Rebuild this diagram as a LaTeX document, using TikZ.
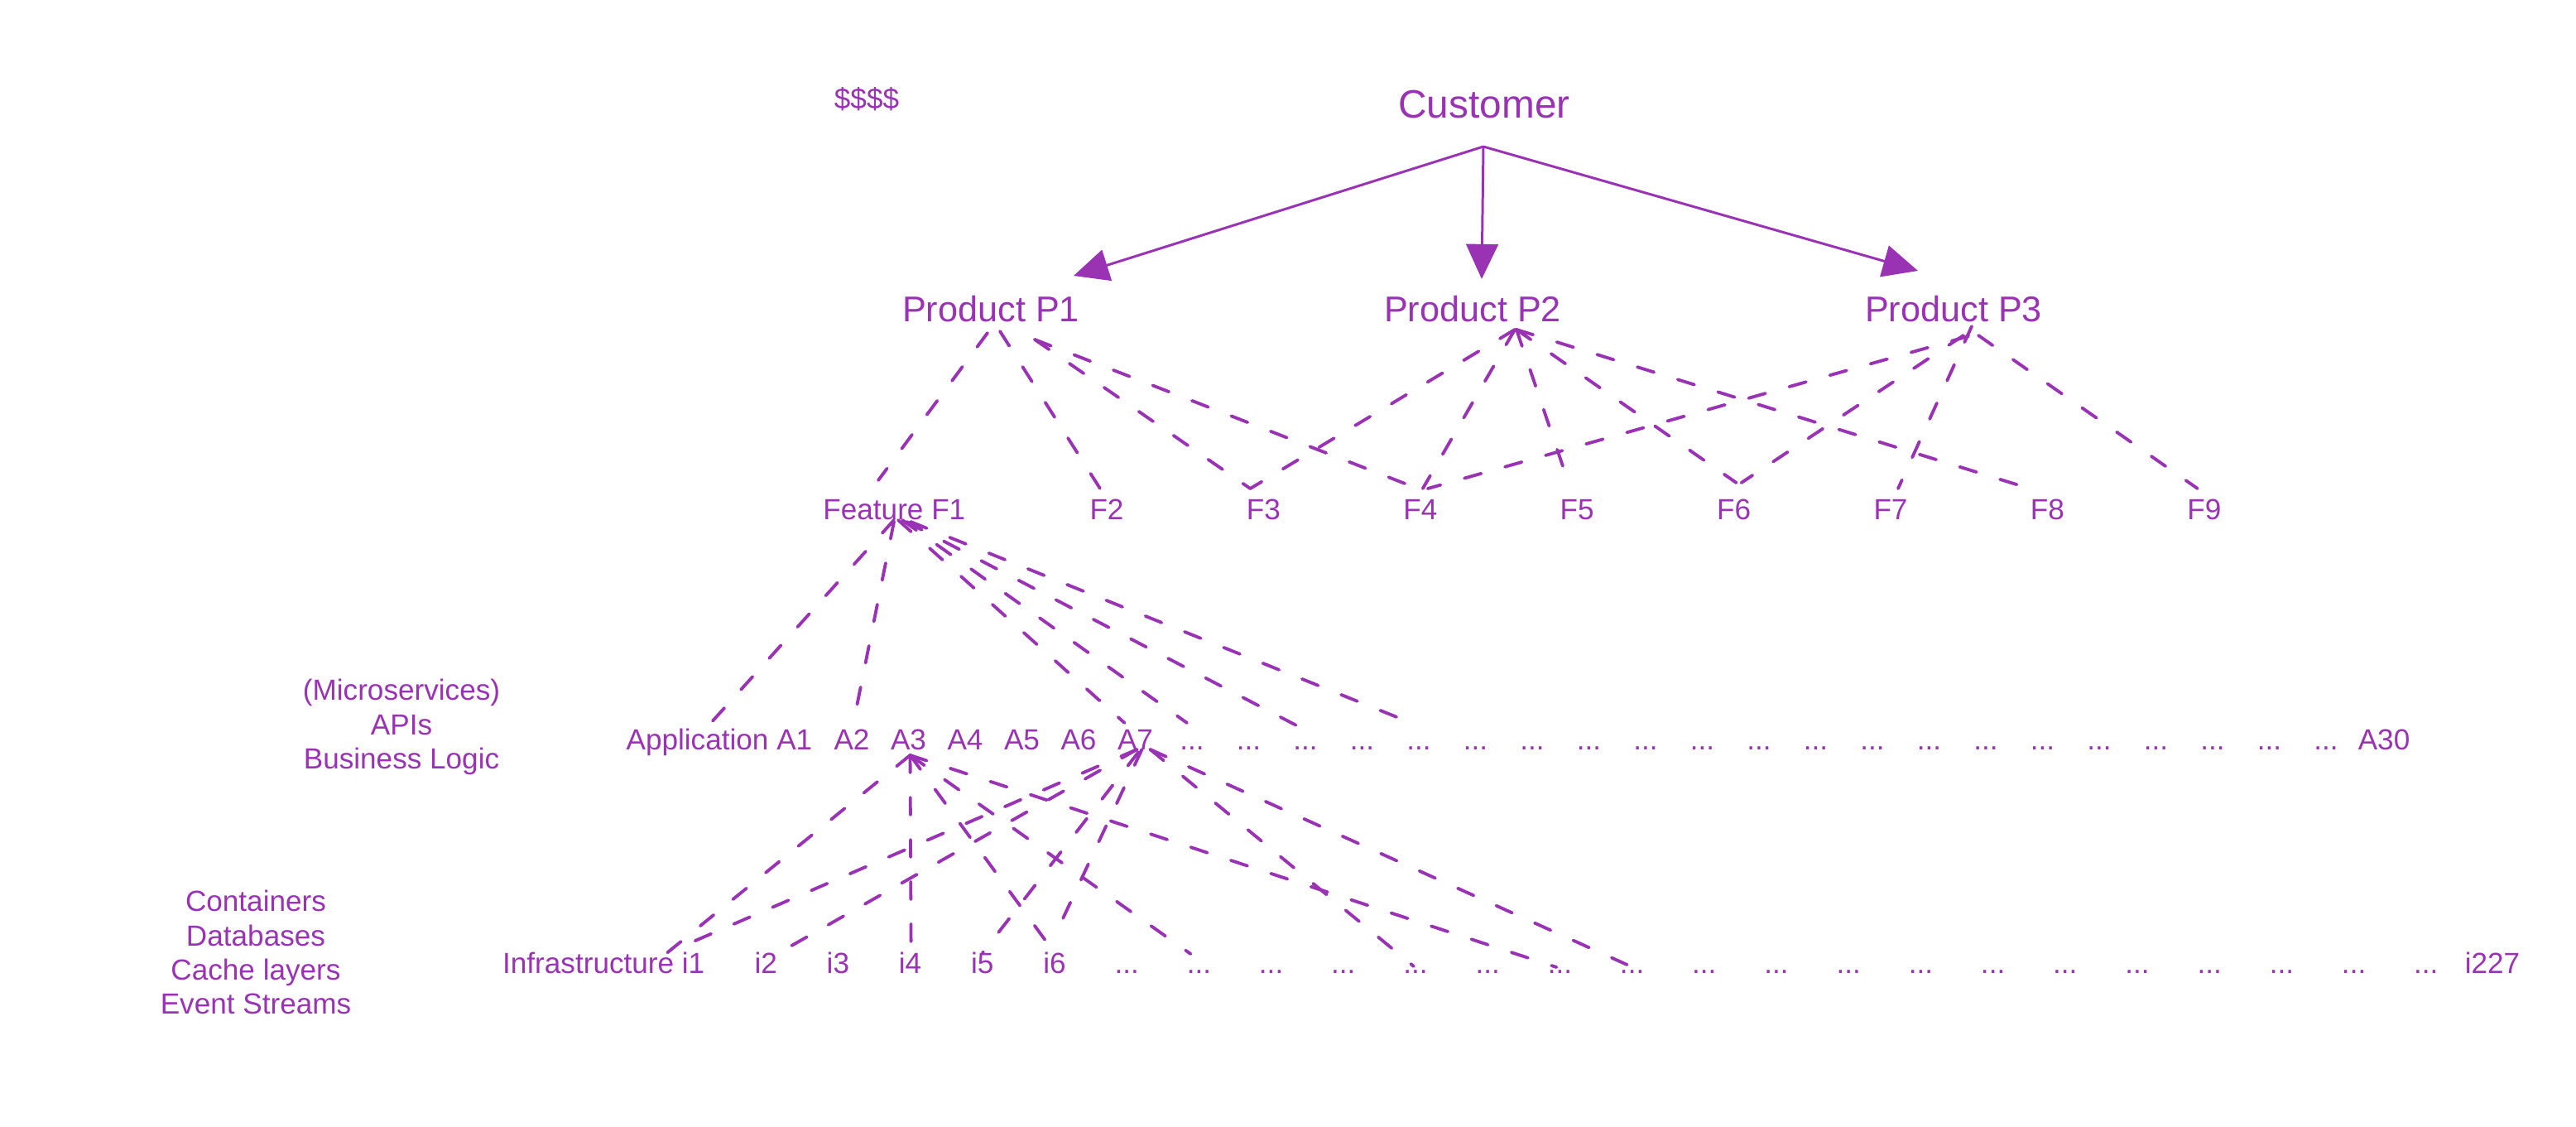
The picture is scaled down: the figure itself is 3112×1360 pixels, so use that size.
\documentclass[tikz,border=0pt]{standalone}
\usepackage{fontspec}
\setmainfont{Liberation Sans}
\usepackage{tikz}
\usetikzlibrary{arrows.meta,calc}
\definecolor{grape}{RGB}{153,51,180}

\begin{document}
\begin{tikzpicture}[x=0.1mm, y=-0.1mm, font=\fontsize{10}{11.7}\selectfont,
      every node/.style={text=grape, inner sep=0pt, anchor=base},
      arrow/.style={-{Triangle[length=12pt, width=11pt]}, draw=grape, line width=0.85pt},
      dline/.style={draw=grape, line width=1.1pt, line cap=round, dash pattern=on 6pt off 8.5pt}]
    \useasboundingbox (0,0) rectangle (3112,1360);
    % customer and products
    \node (cash) at (1047,131) {\$\$\$\$};
    \node[font=\fontsize{13.6}{16}\selectfont] (cust) at (1793,142) {Customer};
    \coordinate (hub) at ($(cust.base)+(-1,35)$);
    \foreach \k/\x in {1/1197, 2/1779, 3/2360}
      \node[font=\fontsize{12.3}{14}\selectfont] (p\k) at (\x,388) {Product P\k};
    \draw[arrow] (hub) -- ($(p1.base)+(100,-55)$);
    \draw[arrow] (hub) -- ($(p2.base)+(11,-51)$);
    \draw[arrow] (hub) -- ($(p3.base)+(-43,-61)$);
    % features
    \node[anchor=base east] (f1) at (1167,627) {Feature F1};
    \foreach \k in {2,...,9}
      \node (f\k) at ({1337+189.4*(\k-2)},627) {F\k};
    % applications
    \node[align=center, anchor=center] (applbl) at (485,878)
      {(Microservices)\\APIs\\Business Logic};
    \node[anchor=base east] (a1) at (982,905) {Application A1};
    \foreach \k in {2,...,7}
      \node (a\k) at ({1029+68.5*(\k-2)},905) {A\k};
    \foreach \k in {8,...,28}
      \node (a\k) at ({1029+68.5*(\k-2)},905) {...};
    \node (a29) at (2880,905) {A30};
    % infrastructure
    \node[align=center, anchor=center] (infralbl) at (309,1150)
      {Containers\\Databases\\Cache layers\\Event Streams};
    \node[anchor=base east] (i1) at (852,1175) {Infrastructure i1};
    \foreach \k in {2,...,6}
      \node (i\k) at ({838+87.2*(\k-1)},1175) {i\k};
    \foreach \k in {7,...,25}
      \node (i\k) at ({838+87.2*(\k-1)},1175) {...};
    \node (i26) at (3011,1175) {i227};
    % products -> features
    \draw[dline] ($(p1.base)+(-4,14)$) -- ($(f1.base east)+(-106,-47)$);
    \draw[dline] ($(p1.base)+(11,12)$) -- ($(f2.base)+(-8,-37)$);
    \draw[dline] ($(p1.base)+(53,22)$) -- ($(f3.base)+(-16,-37)$);
    \draw[dline] ($(p1.base)+(53,22)$) -- ($(f4.base)+(-3,-37)$);
    \draw[dline] ($(p2.base)+(51,10)$) -- ($(f3.base)+(-16,-37)$);
    \draw[dline] ($(p2.base)+(51,10)$) -- ($(f4.base)+(3,-37)$);
    \draw[dline] ($(p2.base)+(53,10)$) -- ($(f5.base)+(-8,-37)$);
    \draw[dline] ($(p2.base)+(53,10)$) -- ($(f6.base)+(3,-44)$);
    \draw[dline] ($(p2.base)+(53,10)$) -- ($(f8.base)+(-31,-40)$);
    \draw[dline] ($(p3.base)+(18,18)$) -- ($(f4.base)+(9,-37)$);
    \draw[dline] ($(p3.base)+(12,17)$) -- ($(f6.base)+(9,-44)$);
    \draw[dline] ($(p3.base)+(22,6)$) -- ($(f7.base)+(9,-37)$);
    \draw[dline] ($(p3.base)+(30,17)$) -- ($(f9.base)+(-8,-37)$);
    % feature -> applications
    \draw[dline] ($(f1.base east)+(-87,1)$) -- ($(a1.base east)+(-125,-30)$);
    \draw[dline] ($(f1.base east)+(-87,3)$) -- ($(a2.base)+(4,-42)$);
    \draw[dline] ($(f1.base east)+(-82,1)$) -- ($(a7.base)+(-13,-32)$);
    \draw[dline] ($(f1.base east)+(-77,1)$) -- ($(a8.base)+(-6,-32)$);
    \draw[dline] ($(f1.base east)+(-72,3)$) -- ($(a10.base)+(-9,-28)$);
    \draw[dline] ($(f1.base east)+(-67,3)$) -- ($(a12.base)+(-4,-30)$);
    % applications -> infrastructure
    \draw[dline] ($(a3.base)+(2,7)$) -- ($(i1.base east)+(-49,-22)$);
    \draw[dline] ($(a3.base)+(2,7)$) -- ($(i4.base)+(1,-31)$);
    \draw[dline] ($(a3.base)+(2,7)$) -- ($(i6.base)+(-5,-31)$);
    \draw[dline] ($(a3.base)+(2,7)$) -- ($(i8.base)+(-10,-23)$);
    \draw[dline] ($(a3.base)+(2,7)$) -- ($(i13.base)+(-4,-7)$);
    \draw[dline] ($(a7.base)+(2,0)$) -- ($(i1.base east)+(-19,-36)$);
    \draw[dline] ($(a7.base)+(2,0)$) -- ($(i2.base)+(24,-29)$);
    \draw[dline] ($(a7.base)+(4,3)$) -- ($(i5.base)+(0,-24)$);
    \draw[dline] ($(a7.base)+(8,0)$) -- ($(i6.base)+(-2,-40)$);
    \draw[dline] ($(a7.base)+(18,0)$) -- ($(i11.base)+(-2,-8)$);
    \draw[dline] ($(a7.base)+(18,0)$) -- ($(i14.base)+(-6,-10)$);
\end{tikzpicture}
\end{document}
